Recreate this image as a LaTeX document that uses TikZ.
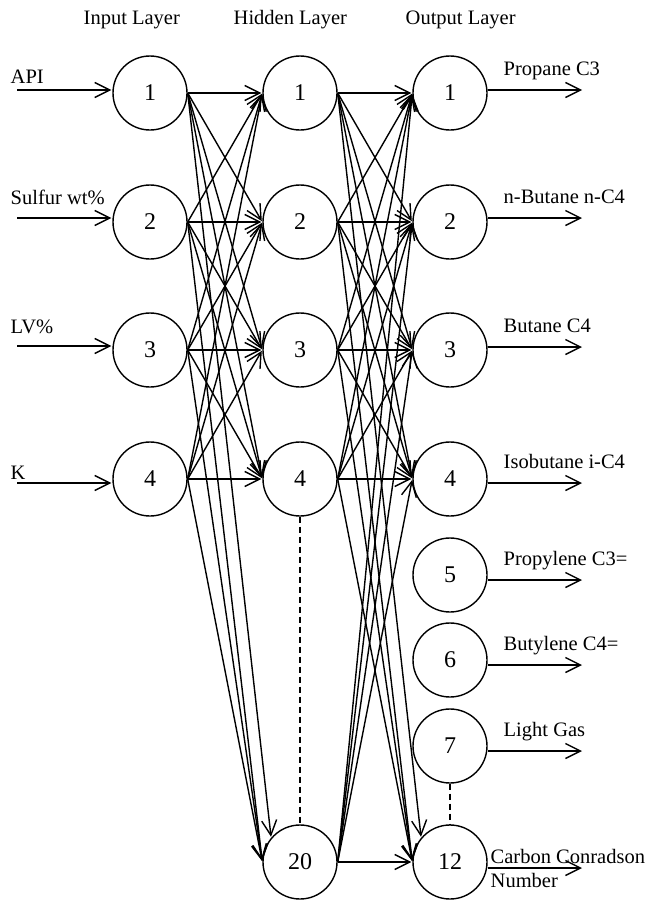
\documentclass[tikz,border=0pt]{standalone}
\usepackage{fontspec}
\setmainfont{Liberation Serif}
\usetikzlibrary{arrows.meta}

\begin{document}
\begin{tikzpicture}[x=1pt,y=-1pt,shorten >=1pt,line width=1.4pt,
    -{Straight Barb[length=15pt,width=15pt,line width=1.4pt]}]
            \tikzstyle{neuron}=[circle,draw=black,fill=white,minimum size=74pt,inner sep=0pt,font=\fontsize{24}{24}\selectfont]
            \tikzstyle{txt}=[inner sep=0pt,anchor=base west,font=\fontsize{20.5}{24}\selectfont]
            \tikzstyle{gap}=[-,dashed,line width=1.3pt,dash pattern=on 6pt off 4pt,shorten >=0pt]
            \useasboundingbox (0,0) rectangle (652,900);

            % layer titles
            \node[txt] (T-in) at (83,24) {Input Layer};
            \node[txt] (T-hid) at (233,24) {Hidden Layer};
            \node[txt] (T-out) at (405,24) {Output Layer};

            % neurons
                \foreach \i/\y in {1/93, 2/222, 3/350, 4/479}{
                    \node[neuron] (I-\i) at (150,\y){\i};
                    \node[neuron] (H-\i) at (300,\y){\i};
                }
                \node[neuron] (H-20) at (300,862){20};
                \foreach \i/\y in {1/93, 2/222, 3/350, 4/479, 5/575, 6/660, 7/746}
                    \node[neuron] (O-\i) at (450,\y){\i};
                \node[neuron] (O-12) at (450,862){12};

            % inputs
                \foreach \i/\y/\t/\b in {1/90/API/83, 2/218/Sulfur wt\%/204, 3/346/LV\%/333, 4/483/K/479}{
                    \coordinate (in-\i) at (17,\y);
                    \node[txt] (in-lab-\i) at (10,\b) {\t};
                    \draw (in-\i) -- (in-\i -| I-\i.west);
                }

            % outputs
                \foreach \i/\y/\t in {1/90/Propane C3, 2/218/n-Butane n-C4, 3/347/Butane C4, 4/483/Isobutane i-C4,
                                      5/580/Propylene C3=, 6/665/Butylene C4=, 7/751/Light Gas}{
                    \coordinate (out-\i) at (583,\y);
                    \node[txt] (out-lab-\i) at (503,\y-15) {\t};
                    \draw (out-\i -| O-\i.east) -- (out-\i);
                }
                \coordinate (out-12) at (583,868);
                \node[txt] (out-lab-12) at (490,863) {Carbon Conradson};
                \node[txt] (out-lab-12b) at (490,887) {Number};
                \draw (out-12 -| O-12.east) -- (out-12);

            % weights
                \foreach \from in {1,...,4}
                    \foreach \to in {1,...,4}{
                        \draw (I-\from.east) -- (H-\to.west);
                        \draw (H-\from.east) -- (O-\to.west);
                    }
                \foreach \from/\a in {1/140, 2/180, 3/180, 4/180}{
                    \draw (I-\from.east) -- (H-20.\a);
                    \draw (H-\from.east) -- (O-12.\a);
                }
                \foreach \to in {1,...,4}
                    \draw (H-20.east) -- (O-\to.west);
                \draw (H-20.east) -- (O-12.west);

                \draw[gap] (H-4) -- (H-20);
                \draw[gap] (O-7) -- (O-12);
        \end{tikzpicture}
\end{document}
